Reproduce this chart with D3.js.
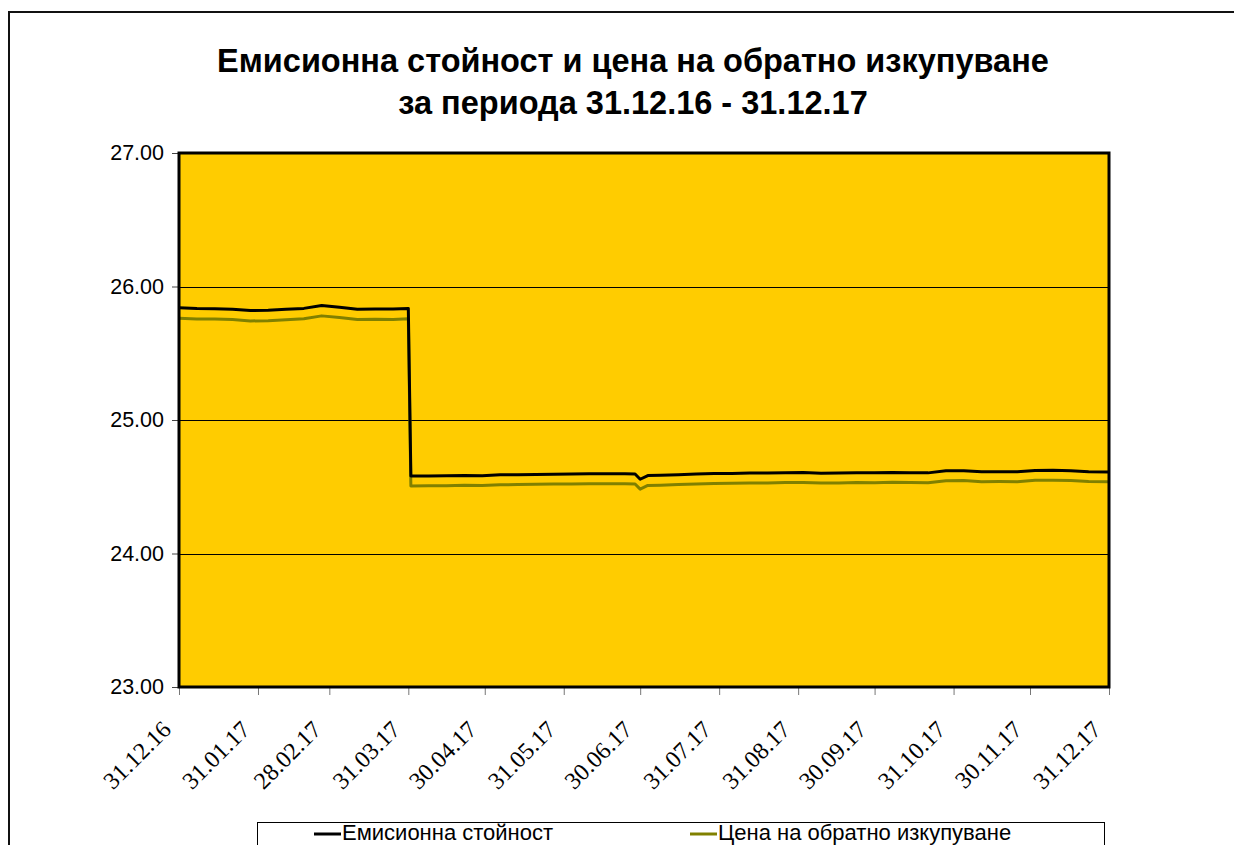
<!DOCTYPE html>
<html>
<head>
<meta charset="utf-8">
<script src="https://cdn.jsdelivr.net/npm/d3@7"></script>
<style>
  body { margin: 0; background: #fff; }
  svg { display: block; }
</style>
</head>
<body>
<div id="chart"></div>
<script>
// dates of the readings (dd.mm.yy)
var dates = ["31.12.16","07.01.17","14.01.17","21.01.17","28.01.17","04.02.17","11.02.17","18.02.17","25.02.17","04.03.17","11.03.17","18.03.17","25.03.17","31.03.17",
  "01.04.17","08.04.17","15.04.17","22.04.17","29.04.17","06.05.17","13.05.17","20.05.17","27.05.17",
  "03.06.17","10.06.17","17.06.17","24.06.17","28.06.17","30.06.17","03.07.17","08.07.17","15.07.17","22.07.17","29.07.17",
  "05.08.17","12.08.17","19.08.17","26.08.17","02.09.17","09.09.17","16.09.17","23.09.17","30.09.17",
  "07.10.17","14.10.17","21.10.17","28.10.17","04.11.17","11.11.17","18.11.17","25.11.17",
  "02.12.17","09.12.17","16.12.17","23.12.17","31.12.17"];

// Емисионна стойност
var emission = [25.840,25.835,25.834,25.830,25.820,25.822,25.829,25.836,25.858,25.845,25.830,25.832,25.831,25.836,
  24.580,24.581,24.582,24.585,24.583,24.589,24.590,24.592,24.594,
  24.595,24.597,24.597,24.597,24.595,24.556,24.584,24.586,24.590,24.595,24.599,
  24.600,24.603,24.603,24.605,24.606,24.602,24.603,24.605,24.604,
  24.607,24.605,24.604,24.619,24.620,24.612,24.613,24.612,
  24.622,24.623,24.620,24.613,24.611];

// Цена на обратно изкупуване
var redemption = [25.762,25.757,25.756,25.752,25.742,25.744,25.751,25.758,25.780,25.767,25.752,25.754,25.753,25.758,
  24.506,24.507,24.508,24.511,24.509,24.515,24.516,24.518,24.520,
  24.521,24.523,24.523,24.523,24.521,24.482,24.510,24.512,24.516,24.521,24.525,
  24.526,24.529,24.529,24.531,24.532,24.528,24.529,24.531,24.530,
  24.533,24.531,24.530,24.545,24.546,24.538,24.539,24.538,
  24.548,24.549,24.546,24.539,24.537];

var xTickLabels = ["31.12.16","31.01.17","28.02.17","31.03.17","30.04.17","31.05.17","30.06.17","31.07.17","31.08.17","30.09.17","31.10.17","30.11.17","31.12.17"];
var yTicks = [23, 24, 25, 26, 27];
var seriesNames = ["Емисионна стойност", "Цена на обратно изкупуване"];
var seriesColors = ["#000000", "#808000"];

const width = 1234, height = 845;
const plot = { left: 179, top: 153, right: 1109, bottom: 687 };

var parse = d3.utcParse("%d.%m.%y");

const svg = d3.select("#chart").append("svg")
    .attr("width", width)
    .attr("height", height);

// outer chart frame
svg.append("rect")
    .attr("x", 9).attr("y", 12)
    .attr("width", 1300).attr("height", 1000)
    .attr("fill", "#fff")
    .attr("stroke", "#111")
    .attr("stroke-width", 2);

// title
var title = svg.append("text")
    .attr("x", 633)
    .attr("text-anchor", "middle")
    .style("font-family", "Arial, 'Liberation Sans', sans-serif")
    .style("font-weight", "bold")
    .style("font-size", "32.5px");
title.append("tspan").attr("x", 633).attr("y", 72).text("Емисионна стойност и цена на обратно изкупуване");
title.append("tspan").attr("x", 633).attr("y", 114).text("за периода 31.12.16 - 31.12.17");

var x = d3.scaleUtc()
    .domain([parse("31.12.16"), parse("31.12.17")])
    .range([plot.left, plot.right]);

var y = d3.scaleLinear()
    .domain([23, 27])
    .range([plot.bottom, plot.top]);

// plot background
svg.append("rect")
    .attr("x", plot.left).attr("y", plot.top)
    .attr("width", plot.right - plot.left)
    .attr("height", plot.bottom - plot.top)
    .attr("fill", "#FFCC00");

// gridlines
svg.append("g").selectAll("line")
    .data(yTicks.slice(1, -1))
    .enter().append("line")
    .attr("x1", plot.left).attr("x2", plot.right)
    .attr("y1", d => Math.round(y(d)) + 0.5)
    .attr("y2", d => Math.round(y(d)) + 0.5)
    .attr("stroke", "#000")
    .attr("stroke-width", 1);

// y axis
var yAxis = svg.append("g")
    .attr("transform", "translate(" + plot.left + ",0)")
    .call(d3.axisLeft(y).tickValues(yTicks).tickSize(7).tickPadding(8).tickFormat(d3.format(".2f")));
yAxis.select(".domain").remove();
yAxis.selectAll("line").attr("stroke", "#444");
yAxis.selectAll("text")
    .style("font-family", "Arial, 'Liberation Sans', sans-serif")
    .style("font-size", "21.5px")
    .attr("fill", "#000");

// x axis
var xAxis = svg.append("g")
    .attr("transform", "translate(0," + plot.bottom + ")")
    .call(d3.axisBottom(x).tickValues(xTickLabels.map(parse)).tickSize(8).tickFormat(d3.utcFormat("%d.%m.%y")));
xAxis.select(".domain").remove();
xAxis.selectAll("line").attr("stroke", "#777");
xAxis.selectAll("text")
    .attr("font-family", "'Liberation Serif', 'Times New Roman', serif")
    .style("font-family", "'Liberation Serif', 'Times New Roman', serif")
    .style("font-size", "24px")
    .attr("fill", "#000")
    .attr("text-anchor", "end")
    .attr("y", 0).attr("dy", 0)
    .attr("transform", "translate(-7,44) rotate(-45)");

// series lines
var line = d3.line()
    .x(d => x(d.date))
    .y(d => y(d.value));

var series = [
  dates.map((d, i) => ({ date: parse(d), value: emission[i] })),
  dates.map((d, i) => ({ date: parse(d), value: redemption[i] }))
];

svg.append("g").selectAll("path")
    .data([series[1], series[0]])
    .enter().append("path")
    .attr("d", line)
    .attr("fill", "none")
    .attr("stroke", (d, i) => i == 0 ? seriesColors[1] : seriesColors[0])
    .attr("stroke-width", 3)
    .attr("stroke-linejoin", "round");

// plot border
svg.append("rect")
    .attr("x", plot.left).attr("y", plot.top)
    .attr("width", plot.right - plot.left)
    .attr("height", plot.bottom - plot.top)
    .attr("fill", "none")
    .attr("stroke", "#000")
    .attr("stroke-width", 3);

// legend
var legend = svg.append("g");
legend.append("rect")
    .attr("x", 257.5).attr("y", 822.5)
    .attr("width", 847).attr("height", 60)
    .attr("fill", "#fff")
    .attr("stroke", "#000")
    .attr("stroke-width", 1);

var legendX = [314, 690];
legend.selectAll(".lg-line")
    .data(seriesNames)
    .enter().append("line")
    .attr("x1", (d, i) => legendX[i])
    .attr("x2", (d, i) => legendX[i] + 27)
    .attr("y1", 834).attr("y2", 834)
    .attr("stroke", (d, i) => seriesColors[i])
    .attr("stroke-width", 3);

legend.selectAll(".lg-text")
    .data(seriesNames)
    .enter().append("text")
    .attr("x", (d, i) => legendX[i] + 28)
    .attr("y", 840)
    .style("font-family", "Arial, 'Liberation Sans', sans-serif")
    .style("font-size", "22px")
    .text(d => d);
</script>
</body>
</html>
